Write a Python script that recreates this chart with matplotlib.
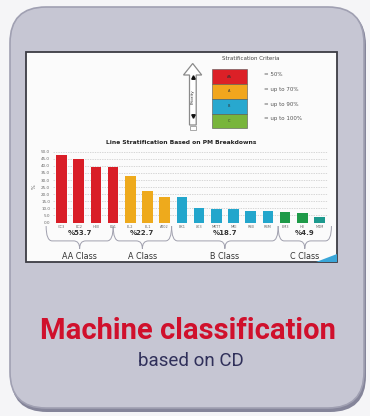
import numpy as np
import matplotlib
matplotlib.use("Agg")
import matplotlib.pyplot as plt
from matplotlib.patches import FancyBboxPatch, Rectangle, Polygon, PathPatch
from matplotlib.path import Path
from matplotlib.transforms import blended_transform_factory

# machine codes and PM breakdown values (hours)
machines = ["CC3", "EC2", "H80", "EC1", "EL2", "EL1", "AT02", "BK1",
            "LK3", "MKT7", "MKI", "R80", "R4M", "EM3", "H0", "M4M"]
breakdowns = [47.7, 44.7, 39.5, 39.5, 32.5, 21.9, 17.9, 17.7,
              10.2, 9.5, 9.5, 8.3, 8.3, 7.6, 6.9, 3.9]
classes = ["AA Class", "A Class", "B Class", "C Class"]
class_size = [4, 3, 6, 3]
class_share = ["%53.7", "%22.7", "%18.7", "%4.9"]
criteria = ["= 50%", "= up to 70%", "= up to 90%", "= up to 100%"]
criteria_tags = ["AA", "A", "B", "C"]

class_colors = ["#d91e27", "#eeaa1c", "#23a6cc", "#1e9a48"]
legend_colors = ["#dc2027", "#f1a61d", "#28a8cf", "#78b53b"]
bar_colors = []
for c, n in zip(class_colors, class_size):
    bar_colors += [c] * n
bar_colors[-1] = "#1d9a8e"

W, H = 370, 416
fig = plt.figure(figsize=(W / 100, H / 100), dpi=100)
fig.patch.set_facecolor("#f5f5f7")

# background layer in pixel units
bg = fig.add_axes([0, 0, 1, 1])
bg.set_xlim(0, W)
bg.set_ylim(H, 0)
bg.axis("off")

# card with shadow
bg.add_patch(FancyBboxPatch((11, 9), 355, 403, boxstyle="round,pad=0,rounding_size=36",
                            facecolor="#85859a", edgecolor="none"))
bg.add_patch(FancyBboxPatch((10, 7), 354, 401, boxstyle="round,pad=0,rounding_size=36",
                            facecolor="#c6c6d3", edgecolor="#a0a0b2", linewidth=1.2))

# white chart panel
bg.add_patch(Rectangle((26, 52), 311, 210, facecolor="#fbfbfb", edgecolor="#3c3c44", linewidth=1.3))
bg.add_patch(Polygon([(316, 262), (337, 254), (337, 262)], closed=True,
                     facecolor="#3aa6d8", edgecolor="none"))

# priority arrow
arrow = [(189.5, 125), (189.5, 75), (183.5, 75), (192.7, 63.5), (201.7, 75),
         (196.2, 75), (196.2, 125)]
bg.add_patch(Polygon(arrow, closed=True, facecolor="white", edgecolor="#8a8a8a", linewidth=0.9))
bg.add_patch(Rectangle((190, 125.5), 6, 4.5, facecolor="white", edgecolor="#9a9a9a", linewidth=0.6))
bg.plot([192.8], [77], marker="^", color="#111", markersize=2.5)
bg.plot([192.8], [116], marker="v", color="#111", markersize=2.5)
bg.text(192.8, 97, "Priority", rotation=90, ha="center", va="center", fontsize=3, color="#333")

# stratification criteria legend
bg.text(251, 59, "Stratification Criteria", ha="center", va="center", fontsize=4, color="#444")
seg_h = 14.75
for k, (col, tag, lab) in enumerate(zip(legend_colors, criteria_tags, criteria)):
    y0 = 69.3 + k * seg_h
    bg.add_patch(Rectangle((211.7, y0), 35, seg_h, facecolor=col, edgecolor="#555", linewidth=0.4))
    bg.text(229.2, y0 + seg_h / 2, tag, ha="center", va="center", fontsize=2.5, color="#333")
    bg.text(264, y0 + seg_h / 2 - 2, lab, ha="left", va="center", fontsize=4, color="#555")

bg.text(181, 142, "Line Stratification Based on PM Breakdowns", ha="center", va="center",
        fontsize=4.3, fontweight="bold", color="#222")

# bar chart
ax = fig.add_axes([53 / W, 1 - 222.5 / H, 275 / W, 70.8 / H])
ax.patch.set_alpha(0)
x = np.arange(len(machines))
ax.bar(x, breakdowns, width=0.62, color=bar_colors, zorder=3)
ax.set_xlim(-0.5, len(machines) - 0.5)
ax.set_ylim(0, 50)
ax.set_yticks(np.arange(0, 51, 5))
ax.set_yticklabels([f"{v:.1f}" for v in np.arange(0, 51, 5)])
ax.set_xticks(x)
ax.set_xticklabels(machines)
ax.tick_params(axis="y", labelsize=3, colors="#666", length=0, pad=2)
ax.tick_params(axis="x", labelsize=2.5, colors="#666", length=0, pad=1.5)
ax.set_ylabel("%", fontsize=3.5, color="#555", labelpad=3)
ax.grid(axis="y", color="#c8c8c8", linestyle=(0, (2, 1.5)), linewidth=0.5, zorder=0)
for s in ax.spines.values():
    s.set_visible(False)

# class braces below the bars
tr = blended_transform_factory(ax.transData, ax.transAxes)
brace_edges = [-0.9, 3.0, 6.4, 12.6, 15.7]
yt, yh, yb = -0.05, -0.26, -0.37
r = 0.35
for k in range(len(classes)):
    xa, xb = brace_edges[k], brace_edges[k + 1]
    xm = (xa + xb) / 2
    verts = [(xa, yt), (xa, yh), (xa + r, yh), (xm - r, yh), (xm, yh), (xm, yb),
             (xm, yh), (xm + r, yh), (xb - r, yh), (xb, yh), (xb, yt)]
    codes = [Path.MOVETO, Path.CURVE3, Path.CURVE3, Path.LINETO, Path.CURVE3, Path.CURVE3,
             Path.CURVE3, Path.CURVE3, Path.LINETO, Path.CURVE3, Path.CURVE3]
    ax.add_patch(PathPatch(Path(verts, codes), transform=tr, facecolor="none",
                           edgecolor="#a0a0ae", linewidth=0.7, clip_on=False))
    ax.text(xm, -0.15, class_share[k], transform=tr, ha="center", va="center",
            fontsize=5, fontweight="bold", color="#333")
    ax.text(xm, -0.48, classes[k], transform=tr, ha="center", va="center",
            fontsize=5.8, color="#333")

# caption
bg.text(188, 331, "Machine classification", ha="center", va="center",
        fontsize=21, fontweight="bold", family="Roboto", color="#d0102c")
bg.text(191, 361, "based on CD", ha="center", va="center",
        fontsize=13.5, family="Roboto", color="#30305a")

fig.savefig("out.png", dpi=100, facecolor=fig.get_facecolor())
